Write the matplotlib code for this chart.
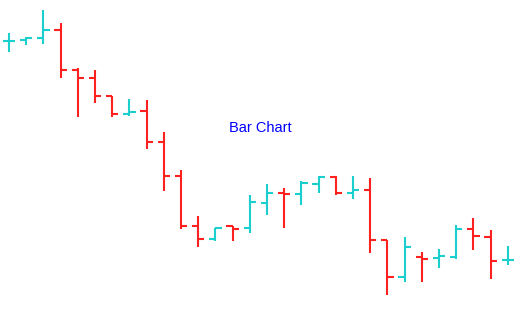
import matplotlib
matplotlib.use('Agg')
import matplotlib.pyplot as plt
import numpy as np

# OHLC values (price units = inverted pixel height)
opens  = [259, 260, 262, 270, 230, 222, 204, 186, 189, 158, 124, 74, 61, 74, 72, 97,
          107, 106, 116, 123, 107, 110, 60, 23, 43, 42, 43, 71, 63, 40]
highs  = [267, 263, 290, 277, 232, 230, 204, 201, 200, 168, 130, 84, 72, 74, 105, 116,
          112, 119, 124, 124, 124, 122, 60, 63, 48, 51, 75, 82, 70, 54]
lows   = [248, 255, 256, 222, 183, 197, 183, 184, 151, 109, 71, 53, 59, 59, 67, 85,
          72, 95, 107, 105, 101, 47, 5, 18, 18, 32, 41, 50, 21, 35]
closes = [259.5, 262, 270, 230, 222, 204, 186, 188, 158, 124, 74, 61, 72, 71, 98, 107,
          106, 117, 123, 107, 110, 60, 23, 53, 41, 44, 71, 64, 39, 40.5]

up_color = '#1ccfcf'
down_color = '#ff2020'

fig = plt.figure(figsize=(5.29, 3.13), dpi=100)
ax = fig.add_axes([0, 0, 1, 1])

tick = 0.36
for i in range(len(opens)):
    c = up_color if closes[i] >= opens[i] else down_color
    ax.plot([i, i], [lows[i], highs[i]], color=c, lw=1.5, solid_capstyle='butt')
    ax.plot([i - tick, i], [opens[i], opens[i]], color=c, lw=1.5, solid_capstyle='butt')
    ax.plot([i, i + tick], [closes[i], closes[i]], color=c, lw=1.5, solid_capstyle='butt')

ax.text(14.6, 172, 'Bar Chart', color='#0000ff', fontsize=10.5,
        family=['Liberation Sans', 'DejaVu Sans'], ha='center', va='center')

ax.set_xlim(-0.52, 30.23)
ax.set_ylim(-13, 300)
ax.axis('off')

fig.savefig('out.png', dpi=100)
